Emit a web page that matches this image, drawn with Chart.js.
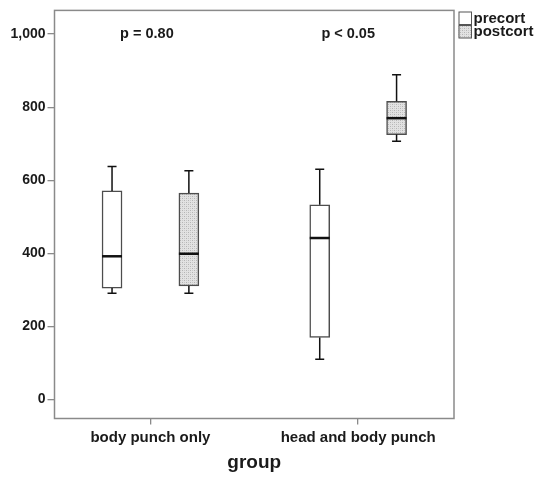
<!DOCTYPE html>
<html lang="en">
<head>
  <meta charset="UTF-8">
  <title>precort / postcort by group</title>
  <style>
    body {
      margin: 0;
      background: #ffffff;
    }
    canvas {
      display: block;
    }
  </style>
  <script src="https://cdn.jsdelivr.net/npm/chart.js"></script>
</head>
<body>
  <canvas id="myChart" width="537" height="477"></canvas>

  <script>
    // categories and series
    const groups = ['body punch only', 'head and body punch'];
    const seriesNames = ['precort', 'postcort'];

    // box plot summaries, one value per group
    const precortLow = [291, 110];
    const precortQ1 = [305, 170];
    const precortMedian = [392, 442];
    const precortQ3 = [571, 533];
    const precortHigh = [638, 630];

    const postcortLow = [291, 707];
    const postcortQ1 = [311, 725];
    const postcortMedian = [399, 770];
    const postcortQ3 = [565, 816];
    const postcortHigh = [626, 889];

    // axis ticks and the p value notes
    const yTicks = [0, 200, 400, 600, 800, 1000];
    const pLabels = ['p = 0.80', 'p < 0.05'];

    // layout bits (not data)
    const boxShift = 0.185;          // half the distance between the two boxes of a group
    const pLabelPos = [{ x: -0.017, y: 1000 }, { x: 0.952, y: 1000 }];
    const frameColor = '#8a8a8a';
    const inkColor = '#1a1a1a';
    const fontFamily = '"Liberation Sans", Arial, sans-serif';

    // dotted grey fill used by SPSS for the second series
    function makeStipple() {
      const c = document.createElement('canvas');
      c.width = 4;
      c.height = 4;
      const g = c.getContext('2d');
      g.fillStyle = '#e2e2e2';
      g.fillRect(0, 0, 4, 4);
      g.fillStyle = '#b4b4b4';
      g.fillRect(0, 0, 1, 1);
      g.fillRect(2, 2, 1, 1);
      g.fillStyle = '#cacaca';
      g.fillRect(2, 0, 1, 1);
      g.fillRect(0, 2, 1, 1);
      return g.createPattern(c, 'repeat');
    }
    const stipple = makeStipple();

    function boxData(q1, q3, shift) {
      return groups.map((g, i) => ({ x: i + shift, y: [q1[i], q3[i]] }));
    }

    // whiskers, medians, frame, p values and legend
    const boxPlotExtras = {
      id: 'boxPlotExtras',
      afterDatasetsDraw(chart) {
        const ctx = chart.ctx;
        const xs = chart.scales.x;
        const ys = chart.scales.y;
        const area = chart.chartArea;

        ctx.save();
        chart.data.datasets.forEach((ds, d) => {
          const meta = chart.getDatasetMeta(d);
          meta.data.forEach((bar, i) => {
            const x = bar.x;
            const half = bar.width / 2;
            const yLow = ys.getPixelForValue(ds.low[i]);
            const yQ1 = ys.getPixelForValue(ds.q1[i]);
            const yQ3 = ys.getPixelForValue(ds.q3[i]);
            const yHigh = ys.getPixelForValue(ds.high[i]);
            const yMed = ys.getPixelForValue(ds.median[i]);

            ctx.strokeStyle = '#111111';
            ctx.lineWidth = 1.5;
            ctx.beginPath();
            ctx.moveTo(x, yQ3);
            ctx.lineTo(x, yHigh);
            ctx.moveTo(x - 4.5, yHigh);
            ctx.lineTo(x + 4.5, yHigh);
            ctx.moveTo(x, yQ1);
            ctx.lineTo(x, yLow);
            ctx.moveTo(x - 4.5, yLow);
            ctx.lineTo(x + 4.5, yLow);
            ctx.stroke();

            ctx.lineWidth = 2.5;
            ctx.beginPath();
            ctx.moveTo(x - half, yMed);
            ctx.lineTo(x + half, yMed);
            ctx.stroke();
          });
        });

        // plot frame
        ctx.strokeStyle = frameColor;
        ctx.lineWidth = 1.5;
        ctx.strokeRect(area.left, area.top, area.right - area.left, area.bottom - area.top);

        // p value notes
        ctx.fillStyle = inkColor;
        ctx.font = 'bold 14.5px ' + fontFamily;
        ctx.textAlign = 'center';
        ctx.textBaseline = 'middle';
        pLabels.forEach((t, i) => {
          ctx.fillText(t, xs.getPixelForValue(pLabelPos[i].x), ys.getPixelForValue(pLabelPos[i].y));
        });

        // legend at the top right, outside the frame
        ctx.font = 'bold 15px ' + fontFamily;
        ctx.textAlign = 'left';
        chart.data.datasets.forEach((ds, d) => {
          const bx = area.right + 4.5;
          const by = 11.5 + d * 13.5;
          ctx.fillStyle = ds.backgroundColor;
          ctx.fillRect(bx, by, 13, 13);
          ctx.strokeStyle = '#555555';
          ctx.lineWidth = 1;
          ctx.strokeRect(bx + 0.5, by + 0.5, 12.5, 12.5);
          ctx.fillStyle = inkColor;
          ctx.fillText(ds.label, bx + 15, by + 7);
        });
        ctx.restore();
      }
    };

    const ctx = document.getElementById('myChart').getContext('2d');

    const myChart = new Chart(ctx, {
      type: 'bar',
      data: {
        datasets: [
          {
            label: seriesNames[0],
            data: boxData(precortQ1, precortQ3, -boxShift),
            low: precortLow, q1: precortQ1, median: precortMedian, q3: precortQ3, high: precortHigh,
            backgroundColor: '#ffffff',
            borderColor: '#4d4d4d',
            borderWidth: 1.5,
            borderSkipped: false
          },
          {
            label: seriesNames[1],
            data: boxData(postcortQ1, postcortQ3, boxShift),
            low: postcortLow, q1: postcortQ1, median: postcortMedian, q3: postcortQ3, high: postcortHigh,
            backgroundColor: stipple,
            borderColor: '#4d4d4d',
            borderWidth: 1.5,
            borderSkipped: false
          }
        ]
      },
      options: {
        responsive: false,
        animation: false,
        grouped: false,
        barThickness: 20,
        layout: {
          padding: { top: 8, right: 83, left: 0, bottom: 0 }
        },
        plugins: {
          legend: { display: false },
          tooltip: { enabled: false }
        },
        scales: {
          x: {
            type: 'linear',
            min: -0.462,
            max: 1.4615,
            offset: false,
            afterFit: s => { s.height = 58.5; },
            afterBuildTicks: s => { s.ticks = groups.map((g, i) => ({ value: i })); },
            border: { display: false },
            grid: {
              offset: false,
              drawOnChartArea: false,
              drawTicks: true,
              tickLength: 6,
              color: frameColor,
              lineWidth: 1.3
            },
            ticks: {
              padding: 4,
              color: inkColor,
              font: { family: fontFamily, size: 15, weight: 'bold' },
              callback: v => groups[v]
            },
            title: {
              display: true,
              text: 'group',
              color: inkColor,
              font: { family: fontFamily, size: 19, weight: 'bold' },
              padding: { top: 0, bottom: 3 }
            }
          },
          y: {
            min: -52,
            max: 1065,
            afterFit: s => { s.width = 54.5; },
            afterBuildTicks: s => { s.ticks = yTicks.map(v => ({ value: v })); },
            border: { display: false },
            grid: {
              drawOnChartArea: false,
              drawTicks: true,
              tickLength: 7,
              color: frameColor,
              lineWidth: 1.3
            },
            ticks: {
              padding: 2,
              color: inkColor,
              font: { family: fontFamily, size: 14, weight: 'bold' },
              callback: v => v.toLocaleString('en-US')
            }
          }
        }
      },
      plugins: [boxPlotExtras]
    });
  </script>
</body>
</html>
